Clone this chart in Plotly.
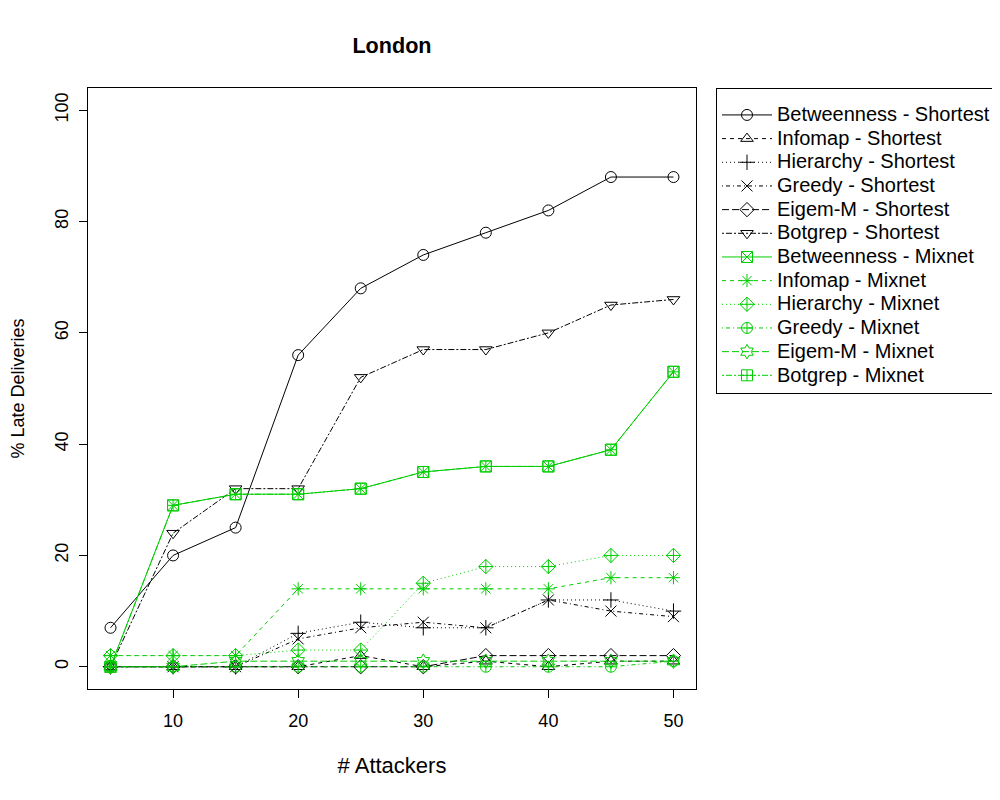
import plotly.graph_objects as go

attackers = [5, 10, 15, 20, 25, 30, 35, 40, 45, 50]

betweenness_shortest = [7, 20, 25, 56, 68, 74, 78, 82, 88, 88]
infomap_shortest = [0, 0, 0, 0, 2, 0, 1, 0, 1, 1]
hierarchy_shortest = [0, 0, 0, 6, 8, 7, 7, 12, 12, 10]
greedy_shortest = [0, 0, 0, 5, 7, 8, 7, 12, 10, 9]
eigem_shortest = [0, 0, 0, 0, 0, 0, 2, 2, 2, 2]
botgrep_shortest = [0, 24, 32, 32, 52, 57, 57, 60, 65, 66]

betweenness_mixnet = [0, 29, 31, 31, 32, 35, 36, 36, 39, 53]
infomap_mixnet = [2, 2, 2, 14, 14, 14, 14, 14, 16, 16]
hierarchy_mixnet = [2, 2, 2, 3, 3, 15, 18, 18, 20, 20]
greedy_mixnet = [0, 0, 0, 0, 0, 0, 0, 0, 0, 1]
eigem_mixnet = [0, 0, 1, 1, 1, 1, 1, 1, 1, 1]
botgrep_mixnet = [0, 29, 31, 31, 32, 35, 36, 36, 39, 53]

names = [
    "Betweenness - Shortest", "Infomap - Shortest", "Hierarchy - Shortest",
    "Greedy - Shortest", "Eigem-M - Shortest", "Botgrep - Shortest",
    "Betweenness - Mixnet", "Infomap - Mixnet", "Hierarchy - Mixnet",
    "Greedy - Mixnet", "Eigem-M - Mixnet", "Botgrep - Mixnet",
]
series = [
    betweenness_shortest, infomap_shortest, hierarchy_shortest,
    greedy_shortest, eigem_shortest, botgrep_shortest,
    betweenness_mixnet, infomap_mixnet, hierarchy_mixnet,
    greedy_mixnet, eigem_mixnet, botgrep_mixnet,
]
symbols = [
    "circle-open", "triangle-up-open", "cross-thin-open", "x-thin-open",
    "diamond-open", "triangle-down-open", "square-x-open", "asterisk-open",
    "diamond-cross-open", "circle-cross-open", "hexagram-open", "square-cross-open",
]
dashes = ["solid", "4px,4px", "1px,3px", "1px,3px,4px,3px", "7px,3px", "2px,2px,6px,2px"] * 2
black = "#000000"
green = "#00CD00"
colors = [black] * 6 + [green] * 6

fig = go.Figure()
for name, ys, sym, dash, col in zip(names, series, symbols, dashes, colors):
    fig.add_trace(go.Scatter(
        x=attackers, y=ys,
        name='<span style="font-size:20px">' + name + "</span>",
        mode="lines+markers",
        line=dict(color=col, width=1, dash=dash),
        marker=dict(symbol=sym, size=11, color=col, line=dict(color=col, width=1)),
    ))

font = "Liberation Sans, Arial, sans-serif"
fig.update_layout(
    width=992, height=792,
    margin=dict(l=80, r=304, t=80, b=111, autoexpand=False),
    paper_bgcolor="white", plot_bgcolor="white",
    font=dict(family=font, size=18, color="black"),
    title=dict(text="<b>London</b>", x=0.5, xref="paper", xanchor="center",
               y=1 - 37 / 792, yanchor="middle", yref="container",
               font=dict(size=21.6, color="black")),
    showlegend=True,
    legend=dict(x=(716 - 88) / 608, y=1, xanchor="left", yanchor="top",
                bordercolor="black", borderwidth=1, bgcolor="white",
                font=dict(size=15.9), tracegroupgap=0, itemwidth=50,
                title=dict(text="&nbsp;", font=dict(size=7))),
    annotations=[dict(text="% Late Deliveries", textangle=-90, showarrow=False,
                      xref="paper", yref="paper", x=(9 - 80) / 608, y=0.5,
                      xanchor="center", yanchor="middle", font=dict(size=18))],
)
fig.update_xaxes(
    range=[3.2, 51.8], tickvals=[10, 20, 30, 40, 50], ticks="outside", ticklen=8,
    tickcolor="black", showline=True, linecolor="black", mirror=True,
    showgrid=False, zeroline=False, ticklabelstandoff=7, automargin=False,
    title=dict(text="# Attackers", standoff=28),
)
fig.update_yaxes(
    range=[-4, 104], tickvals=[0, 20, 40, 60, 80, 100], ticks="outside", ticklen=8,
    tickcolor="black", showline=True, linecolor="black", mirror=True,
    showgrid=False, zeroline=False, tickangle=-90, ticklabelstandoff=4, automargin=False,
)
fig.write_html("out.html")
